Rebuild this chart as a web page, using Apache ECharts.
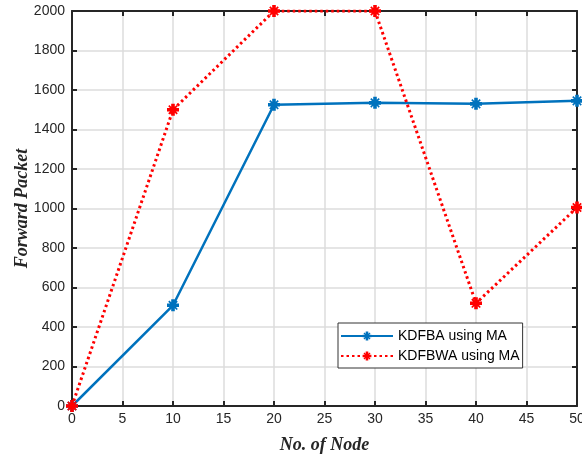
<!DOCTYPE html>
<html>
<head>
<meta charset="utf-8">
<script src="https://cdn.jsdelivr.net/npm/echarts@6/dist/echarts.min.js"></script>
<style>
  html, body { margin: 0; padding: 0; background: #fff; }
  #chart { width: 582px; height: 459px; }
</style>
</head>
<body>
<div id="chart"></div>
<script>
const nodes = [0, 10, 20, 30, 40, 50]
const kdfba = [0, 510, 1525, 1535, 1530, 1545]
const kdfbwa = [0, 1500, 2000, 2000, 520, 1005]

const chart = echarts.init(document.getElementById('chart'))
const axisColor = '#262626'
const gridColor = '#dcdcdc'
// chunky asterisk-like marker
const markPath = 'path://M-3,-10 L3,-10 L3,-5 L6,-8 L8,-6 L5,-3 L10,-3 L10,3 L5,3 L8,6 L6,8 L3,5 L3,10 L-3,10 L-3,5 L-6,8 L-8,6 L-5,3 L-10,3 L-10,-3 L-5,-3 L-8,-6 L-6,-8 L-3,-5 Z'

const tickCommon = {
  axisLine: { show: true, onZero: false, lineStyle: { color: axisColor, width: 2 } },
  axisTick: { show: true, inside: true, length: 5, lineStyle: { color: axisColor, width: 2 } },
}
const labelFont = { color: axisColor, fontSize: 14, fontFamily: 'Liberation Sans, Arial' }
const nameFont = { fontFamily: 'Liberation Serif, Times New Roman', fontStyle: 'italic', fontWeight: 'bold', fontSize: 18, color: axisColor }

chart.setOption({
  animation: false,
  grid: { left: 72, right: 5, top: 11, bottom: 53, containLabel: false, outerBoundsMode: 'none' },
  legend: {
    orient: 'vertical',
    left: 338,
    top: 323,
    itemWidth: 52,
    itemHeight: 11,
    itemGap: 6,
    padding: [6, 3, 5, 2],
    backgroundColor: '#fff',
    borderColor: '#333',
    borderWidth: 1,
    textStyle: { fontFamily: 'Liberation Sans, Arial', fontSize: 14, color: '#000' },
    data: ['KDFBA using MA', 'KDFBWA using MA'],
  },
  xAxis: [
    {
      type: 'value', min: 0, max: 50, interval: 5,
      ...tickCommon,
      axisLabel: { ...labelFont, margin: 6 },
      splitLine: { show: true, lineStyle: { color: gridColor, width: 1.5 } },
      name: 'No. of Node',
      nameLocation: 'middle',
      nameGap: 30,
      nameMoveOverlap: false,
      nameTextStyle: nameFont,
    },
    {
      type: 'value', min: 0, max: 50, interval: 5, position: 'top',
      ...tickCommon,
      axisLabel: { show: false }, splitLine: { show: false },
    },
  ],
  yAxis: [
    {
      type: 'value', min: 0, max: 2000, interval: 200,
      ...tickCommon,
      axisLabel: { ...labelFont, margin: 7, formatter: v => String(v) },
      splitLine: { show: true, lineStyle: { color: gridColor, width: 1.5 } },
      name: 'Forward Packet',
      nameLocation: 'middle',
      nameGap: 41,
      nameMoveOverlap: false,
      nameTextStyle: nameFont,
    },
    {
      type: 'value', min: 0, max: 2000, interval: 200, position: 'right',
      ...tickCommon,
      axisLabel: { show: false }, splitLine: { show: false },
    },
  ],
  series: [
    {
      name: 'KDFBA using MA',
      type: 'line',
      data: nodes.map((x, i) => [x, kdfba[i]]),
      symbol: markPath,
      symbolSize: 12,
      showAllSymbol: true,
      lineStyle: { color: '#0072BD', width: 2.5 },
      itemStyle: { color: '#0072BD' },
      z: 3,
    },
    {
      name: 'KDFBWA using MA',
      type: 'line',
      data: nodes.map((x, i) => [x, kdfbwa[i]]),
      symbol: markPath,
      symbolSize: 12,
      showAllSymbol: true,
      lineStyle: { color: '#FF0000', width: 3, type: [2.5, 3] },
      itemStyle: { color: '#FF0000' },
      z: 4,
    },
  ],
})
</script>
</body>
</html>
